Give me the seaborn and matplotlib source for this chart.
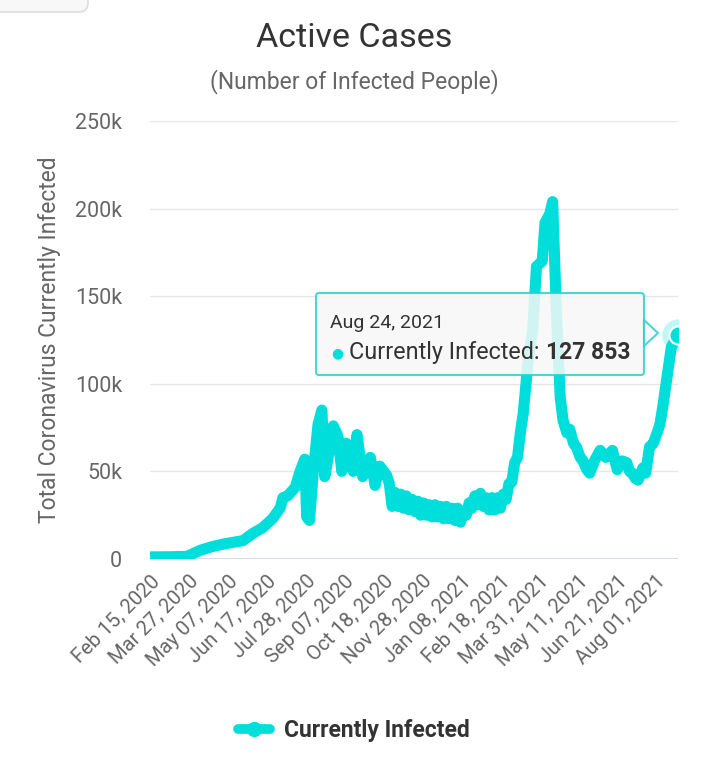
import pandas as pd
import numpy as np
import matplotlib.pyplot as plt
import seaborn as sns
from matplotlib.patches import FancyBboxPatch, Polygon
from matplotlib.lines import Line2D

# data (the wiggles are the daily reporting swings)
dates = [
    "2020-02-15", "2020-03-10", "2020-03-25", "2020-04-08", "2020-04-20",
    "2020-05-02", "2020-05-23", "2020-06-02", "2020-06-13", "2020-06-23",
    "2020-07-01", "2020-07-04", "2020-07-09", "2020-07-17", "2020-07-22",
    "2020-07-27", "2020-07-29", "2020-08-01", "2020-08-05", "2020-08-10",
    "2020-08-14", "2020-08-17", "2020-08-22", "2020-08-26", "2020-08-31",
    "2020-09-04", "2020-09-09", "2020-09-16", "2020-09-20", "2020-09-26",
    "2020-10-04", "2020-10-09", "2020-10-14", "2020-10-21", "2020-10-24",
    "2020-10-27", "2020-10-30", "2020-11-02", "2020-11-05", "2020-11-08",
    "2020-11-11", "2020-11-14", "2020-11-17", "2020-11-20", "2020-11-23",
    "2020-11-26", "2020-11-29", "2020-12-02", "2020-12-05", "2020-12-08",
    "2020-12-11", "2020-12-14", "2020-12-17", "2020-12-20", "2020-12-23",
    "2020-12-26", "2020-12-29", "2021-01-01", "2021-01-04", "2021-01-07",
    "2021-01-10", "2021-01-13", "2021-01-16", "2021-01-19", "2021-01-22",
    "2021-01-25", "2021-01-28", "2021-01-31", "2021-02-03", "2021-02-06",
    "2021-02-09", "2021-02-12", "2021-02-15", "2021-02-18", "2021-02-21",
    "2021-02-24", "2021-02-27", "2021-03-02", "2021-03-05", "2021-03-08",
    "2021-03-11", "2021-03-14", "2021-03-19", "2021-03-24", "2021-03-28",
    "2021-04-03", "2021-04-06", "2021-04-11", "2021-04-14", "2021-04-18",
    "2021-04-22", "2021-04-25", "2021-04-29", "2021-05-02", "2021-05-06",
    "2021-05-09", "2021-05-13", "2021-05-16", "2021-05-20", "2021-05-23",
    "2021-05-28", "2021-06-03", "2021-06-09", "2021-06-16", "2021-06-21",
    "2021-06-26", "2021-07-01", "2021-07-04", "2021-07-07", "2021-07-10",
    "2021-07-13", "2021-07-18", "2021-07-21", "2021-07-25", "2021-07-29",
    "2021-08-02", "2021-08-05", "2021-08-08", "2021-08-13", "2021-08-17",
    "2021-08-24",
]
infected = [
    1200, 1300, 1500, 5000, 7000,
    8500, 10500, 14500, 18000, 23000,
    29000, 35000, 36000, 41000, 50000,
    57000, 24000, 22000, 50000, 77000,
    85000, 47000, 62000, 76000, 70000,
    50000, 66000, 50000, 71000, 47000,
    58000, 42000, 53000, 48000, 43000,
    30000, 38000, 30000, 37000, 29000,
    36000, 28000, 34000, 27000, 33000,
    25000, 32000, 25000, 31000, 24000,
    31000, 24000, 30000, 23000, 30000,
    23000, 29000, 22000, 29000, 21000,
    27000, 25000, 32000, 29000, 36000,
    31000, 37500, 30000, 35000, 28000,
    35000, 28000, 35000, 29000, 37000,
    34000, 43000, 44000, 55000, 58000,
    72000, 83000, 112000, 131000, 167000,
    170000, 192000, 197000, 204000, 140000,
    92000, 79000, 72000, 74000, 66000,
    64000, 58000, 56000, 51000, 49000,
    56000, 62000, 58000, 62000, 51000,
    56000, 55000, 50000, 49000, 46000,
    45000, 52000, 49000, 64000, 66000,
    72000, 77000, 87000, 106000, 121000,
    127853,
]
tick_dates = ["2020-02-15", "2020-03-27", "2020-05-07", "2020-06-17", "2020-07-28",
              "2020-09-07", "2020-10-18", "2020-11-28", "2021-01-08", "2021-02-18",
              "2021-03-31", "2021-05-11", "2021-06-21", "2021-08-01"]
tick_labels = ["Feb 15, 2020", "Mar 27, 2020", "May 07, 2020", "Jun 17, 2020", "Jul 28, 2020",
               "Sep 07, 2020", "Oct 18, 2020", "Nov 28, 2020", "Jan 08, 2021", "Feb 18, 2021",
               "Mar 31, 2021", "May 11, 2021", "Jun 21, 2021", "Aug 01, 2021"]
y_ticks = [0, 50000, 100000, 150000, 200000, 250000]
y_labels = ["0", "50k", "100k", "150k", "200k", "250k"]

df = pd.DataFrame({"date": pd.to_datetime(dates), "infected": infected})

TEAL = "#00dedc"
TXT = "#666666"

sns.set_style("white")
plt.rcParams['font.family'] = ['Roboto', 'DejaVu Sans']

fig = plt.figure(figsize=(7.08, 7.84), dpi=100)
ax = fig.add_axes([150 / 708, 1 - 559 / 784, 528 / 708, 438 / 784])

sns.lineplot(data=df, x="date", y="infected", ax=ax, color=TEAL, linewidth=8,
             solid_joinstyle="round", solid_capstyle="round", zorder=3)

ax.set_xlim(pd.Timestamp("2020-02-15"), pd.Timestamp("2021-08-24"))
ax.set_ylim(0, 250000)
ax.set_yticks(y_ticks)
ax.set_yticklabels(y_labels)
ax.set_xticks(pd.to_datetime(tick_dates))
ax.set_xticklabels(tick_labels, rotation=45, ha="right", rotation_mode="anchor")
ax.tick_params(axis="y", length=0, pad=20, labelsize=15.5, labelcolor=TXT)
ax.tick_params(axis="x", length=0, pad=9, labelsize=14.5, labelcolor=TXT)
ax.set_xlabel("")
ax.set_ylabel("Total Coronavirus Currently Infected", fontsize=16.5, color=TXT, labelpad=10)

for s in ax.spines.values():
    s.set_visible(False)
for yv in y_ticks[1:]:
    ax.axhline(yv, color="#e6e6e6", linewidth=1, zorder=1)
ax.axhline(0, color="#ccd6eb", linewidth=1.2, zorder=1)

fig.text(0.5, 1 - 38 / 784, "Active Cases", ha="center", va="center", fontsize=24.5, color="#333333")
fig.text(0.5, 1 - 82 / 784, "(Number of Infected People)", ha="center", va="center", fontsize=16.5, color=TXT)

# hover halo and point at the last value
last = df.iloc[-1]
ax.scatter([last["date"]], [last["infected"]], s=540, color=TEAL, alpha=0.25, linewidths=0, zorder=4)
ax.scatter([last["date"]], [last["infected"]], s=170, color=TEAL, edgecolors="white", linewidths=1.5, zorder=6)

# tooltip
box = FancyBboxPatch((316 / 708, 1 - 375 / 784), 328 / 708, 82 / 784,
                     boxstyle="round,pad=0,rounding_size=0.004", transform=fig.transFigure,
                     facecolor="#f7f7f7", edgecolor="#2ccfcf", linewidth=1.5, alpha=0.85, zorder=5)
fig.add_artist(box)
tip = Polygon([(644 / 708, 1 - 320 / 784), (658 / 708, 1 - 333 / 784), (644 / 708, 1 - 346 / 784)],
              closed=True, transform=fig.transFigure, facecolor="#f7f7f7", edgecolor="#2ccfcf",
              linewidth=1.5, alpha=0.85, zorder=5)
fig.add_artist(tip)
fig.text(330 / 708, 1 - 323 / 784, "Aug 24, 2021", ha="left", va="center", fontsize=14, color="#333333", zorder=7)
fig.text(331 / 708, 1 - 353 / 784, "\u25cf", ha="left", va="center", fontsize=10, color=TEAL, zorder=7)
fig.text(349 / 708, 1 - 352 / 784, "Currently Infected:", ha="left", va="center", fontsize=16.8, color="#333333", zorder=7)
fig.text(546 / 708, 1 - 352 / 784, "127 853", ha="left", va="center", fontsize=16.5, fontweight="bold", color="#333333", zorder=7)

# legend
handle = Line2D([0], [0], color=TEAL, linewidth=7, marker="o", markersize=10)
fig.legend([handle], ["Currently Infected"], loc="center", bbox_to_anchor=(0.5, 1 - 731 / 784),
           frameon=False, handlelength=1.4, handletextpad=0.6,
           prop={"size": 16.5, "weight": "bold"}, labelcolor="#333333")

# cut-off rounded box at top-left
corner = FancyBboxPatch((-20 / 708, 1 - 12 / 784), 108 / 708, 30 / 784,
                        boxstyle="round,pad=0,rounding_size=0.012", transform=fig.transFigure,
                        facecolor="#f8f8f8", edgecolor="#dddddd", linewidth=1.2)
fig.add_artist(corner)

fig.savefig("out.png", dpi=100)
